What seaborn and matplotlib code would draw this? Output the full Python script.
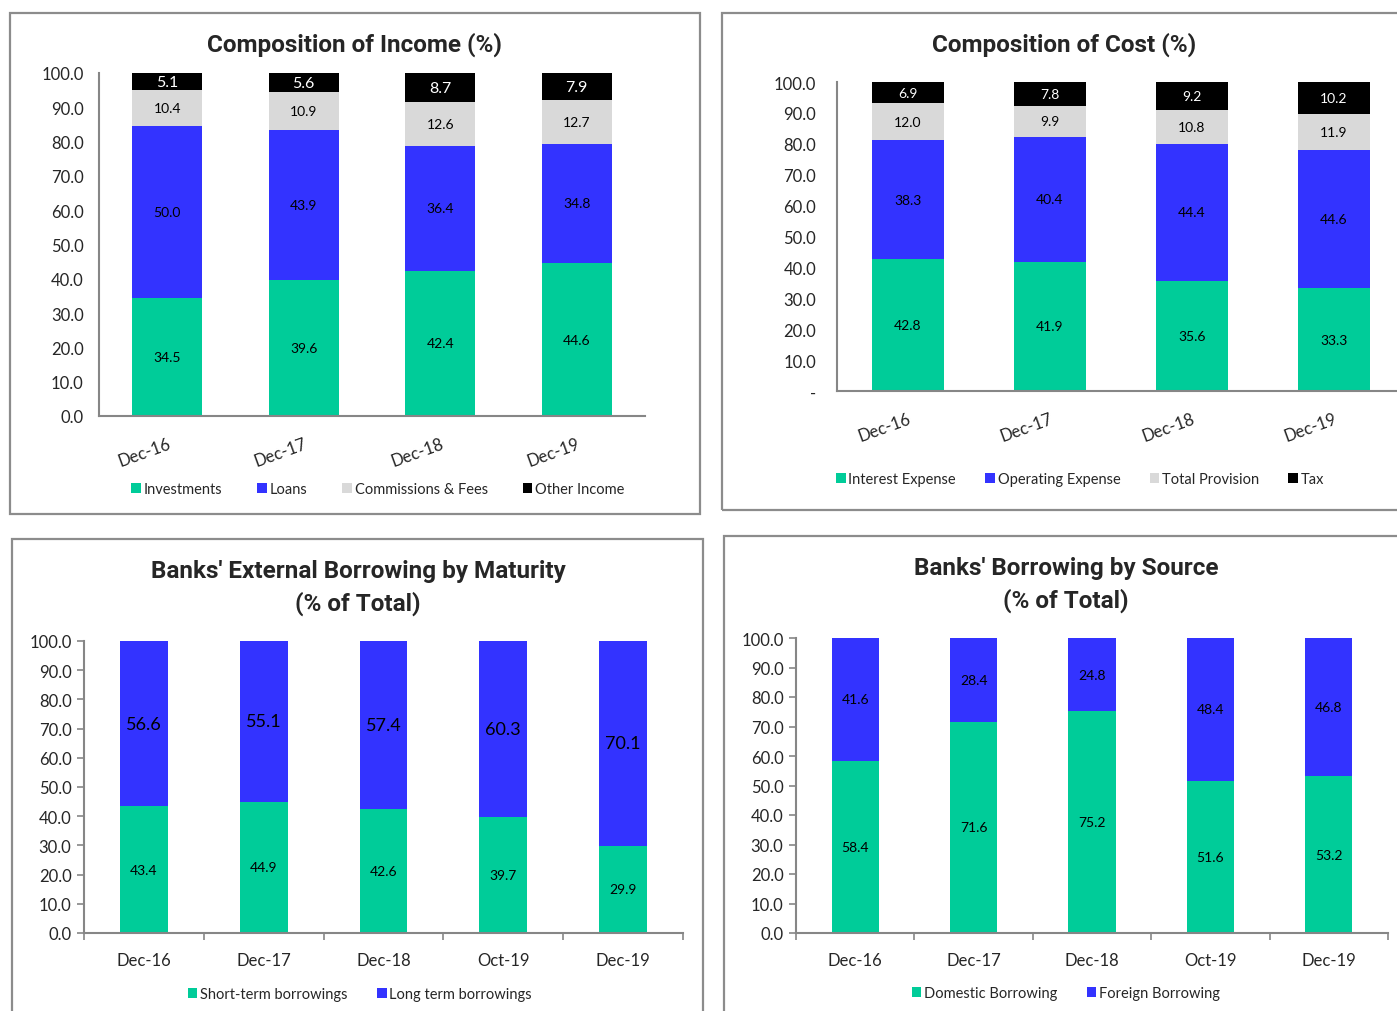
"""Four stacked-bar panels: bank income, cost and borrowing composition."""

import matplotlib
matplotlib.use("Agg")
import matplotlib.pyplot as plt
import seaborn as sns
import numpy as np
from matplotlib.patches import Patch, Rectangle
from matplotlib.ticker import FuncFormatter, MultipleLocator, FixedLocator

# ---- data ----
years4 = ["Dec-16", "Dec-17", "Dec-18", "Dec-19"]
years5 = ["Dec-16", "Dec-17", "Dec-18", "Oct-19", "Dec-19"]

income_labels = ["Investments", "Loans", "Commissions & Fees", "Other Income"]
investments = [34.5, 39.6, 42.4, 44.6]
loans = [50.0, 43.9, 36.4, 34.8]
commissions = [10.4, 10.9, 12.6, 12.7]
other_income = [5.1, 5.6, 8.7, 7.9]

cost_labels = ["Interest Expense", "Operating Expense", "Total Provision", "Tax"]
interest_exp = [42.8, 41.9, 35.6, 33.3]
operating_exp = [38.3, 40.4, 44.4, 44.6]
provision = [12.0, 9.9, 10.8, 11.9]
tax = [6.9, 7.8, 9.2, 10.2]

maturity_labels = ["Short-term borrowings", "Long term borrowings"]
short_term = [43.4, 44.9, 42.6, 39.7, 29.9]
long_term = [56.6, 55.1, 57.4, 60.3, 70.1]

source_labels = ["Domestic Borrowing", "Foreign Borrowing"]
domestic = [58.4, 71.6, 75.2, 51.6, 53.2]
foreign = [41.6, 28.4, 24.8, 48.4, 46.8]

GREEN = "#00CC99"
BLUE = "#3333FF"
GREY = "#D9D9D9"
BLACK = "#000000"
SPINE = "#868686"
TITLE_FONT = ["Roboto", "DejaVu Sans"]

sns.set_style("white")
plt.rcParams["font.family"] = ["Lato", "DejaVu Sans"]

W, H = 1397, 1012
fig = plt.figure(figsize=(W / 100, H / 100), dpi=100)


def px_axes(left, right, top, bottom):
    return fig.add_axes([left / W, 1 - bottom / H, (right - left) / W, (bottom - top) / H])


def frame(x0, y0, x1, y1):
    fig.add_artist(Rectangle((x0 / W, 1 - y1 / H), (x1 - x0) / W, (y1 - y0) / H,
                             transform=fig.transFigure, fill=False,
                             edgecolor="#8c8c8c", lw=1.6, clip_on=False))


def title(cx, cy, text):
    fig.text(cx / W, 1 - cy / H, text, ha="center", va="center", fontsize=17.5,
             fontweight="bold", family=TITLE_FONT, linespacing=1.4)


def stacked(ax, cats, layers, colors, width, label_sizes, label_colors):
    cum = np.cumsum(np.array(layers, dtype=float), axis=0)
    for i in reversed(range(len(layers))):
        sns.barplot(x=cats, y=cum[i], color=colors[i], width=width, saturation=1,
                    errorbar=None, linewidth=0, ax=ax)
    for i, vals in enumerate(layers):
        for j, v in enumerate(vals):
            base = cum[i - 1][j] if i > 0 else 0.0
            ax.text(j, base + v / 2, f"{v:.1f}", ha="center", va="center",
                    fontsize=label_sizes[i], color=label_colors[i])
    ax.set_ylim(0, 100)
    ax.yaxis.set_major_locator(MultipleLocator(10))
    ax.set_xlabel("")
    ax.set_ylabel("")
    for s in ["top", "right"]:
        ax.spines[s].set_visible(False)
    for s in ["left", "bottom"]:
        ax.spines[s].set_color(SPINE)
        ax.spines[s].set_linewidth(1.5)


def legend(labels, colors, cx, cy, spacing):
    handles = [Patch(facecolor=c, edgecolor="none", label=l) for l, c in zip(labels, colors)]
    fig.legend(handles=handles, loc="center", bbox_to_anchor=(cx / W, 1 - cy / H),
               ncol=len(labels), frameon=False, fontsize=10.5, handlelength=0.65,
               handleheight=0.65, handletextpad=0.2, columnspacing=spacing)


# ---- panel 1: income ----
frame(10, 14, 700, 515)
ax1 = px_axes(99, 645, 74, 417)
stacked(ax1, years4, [investments, loans, commissions, other_income],
        [GREEN, BLUE, GREY, BLACK], 0.51, [10, 10, 10, 11.5], ["black", "black", "black", "white"])
ax1.set_xlim(-0.5, 3.5)
ax1.yaxis.set_major_formatter(FuncFormatter(lambda v, p: f"{v:.1f}"))
ax1.tick_params(axis="y", length=0, pad=11, labelsize=12)
ax1.tick_params(axis="x", length=0, pad=14, labelsize=12)
plt.setp(ax1.get_xticklabels(), rotation=20, ha="right", rotation_mode="anchor")
title(355, 45, "Composition of Income (%)")
legend(income_labels, [GREEN, BLUE, GREY, BLACK], 378, 490, 2.4)

# ---- panel 2: cost ----
frame(722, 14, 1402, 511)
ax2 = px_axes(837, 1397, 83, 392)
stacked(ax2, years4, [interest_exp, operating_exp, provision, tax],
        [GREEN, BLUE, GREY, BLACK], 0.51, [10, 10, 10, 10], ["black", "black", "black", "white"])
ax2.set_xlim(-0.5, (1397 - 837) / 142 - 0.5)
ax2.yaxis.set_major_formatter(FuncFormatter(lambda v, p: "-" if v == 0 else f"{v:.1f}"))
ax2.tick_params(axis="y", length=0, pad=15, labelsize=12)
ax2.tick_params(axis="x", length=0, pad=14, labelsize=12)
plt.setp(ax2.get_xticklabels(), rotation=20, ha="right", rotation_mode="anchor")
title(1064, 45, "Composition of Cost (%)")
legend(cost_labels, [GREEN, BLUE, GREY, BLACK], 1080, 480, 2.0)

# ---- panel 3: maturity ----
frame(12, 540, 703, 1020)
ax3 = px_axes(84, 683, 642, 934)
stacked(ax3, years5, [short_term, long_term], [GREEN, BLUE], 0.4,
        [10, 13], ["black", "black"])
ax3.set_xlim(-0.5, 4.5)
ax3.yaxis.set_major_formatter(FuncFormatter(lambda v, p: f"{v:.1f}"))
ax3.xaxis.set_minor_locator(FixedLocator(np.arange(-0.5, 5, 1.0)))
ax3.tick_params(axis="y", length=5, width=1.2, color=SPINE, pad=4, labelsize=12, left=True)
ax3.tick_params(axis="x", which="major", length=0, pad=14, labelsize=12)
ax3.tick_params(axis="x", which="minor", length=5, width=1.2, color=SPINE, bottom=True)
title(358, 588, "Banks' External Borrowing by Maturity\n(% of Total)")
legend(maturity_labels, [GREEN, BLUE], 360, 995, 2.0)

# ---- panel 4: source ----
frame(724, 537, 1402, 1020)
ax4 = px_axes(796, 1388, 639, 934)
stacked(ax4, years5, [domestic, foreign], [GREEN, BLUE], 0.4,
        [10, 10], ["black", "black"])
ax4.set_xlim(-0.5, 4.5)
ax4.yaxis.set_major_formatter(FuncFormatter(lambda v, p: f"{v:.1f}"))
ax4.xaxis.set_minor_locator(FixedLocator(np.arange(-0.5, 5, 1.0)))
ax4.tick_params(axis="y", length=5, width=1.2, color=SPINE, pad=4, labelsize=12, left=True)
ax4.tick_params(axis="x", which="major", length=0, pad=14, labelsize=12)
ax4.tick_params(axis="x", which="minor", length=5, width=1.2, color=SPINE, bottom=True)
title(1066, 585, "Banks' Borrowing by Source\n(% of Total)")
legend(source_labels, [GREEN, BLUE], 1066, 994, 2.0)

fig.savefig("out.png", dpi=100)
plt.close(fig)
